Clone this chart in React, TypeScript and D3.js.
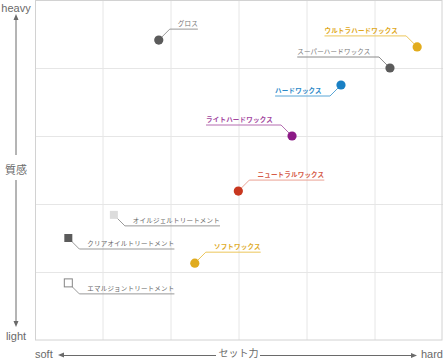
import React from "react";
import * as d3 from "d3";

const products = [
  "グロス",
  "ウルトラハードワックス",
  "スーパーハードワックス",
  "ハードワックス",
  "ライトハードワックス",
  "ニュートラルワックス",
  "ソフトワックス",
  "オイルジェルトリートメント",
  "クリアオイルトリートメント",
  "エマルジョントリートメント",
];
// set strength (soft 0 → hard 6)
const setPower = [1.82, 5.62, 5.22, 4.5, 3.78, 2.99, 2.35, 1.16, 0.49, 0.49];
// texture (light 0 → heavy 5)
const texture = [4.41, 4.31, 4.0, 3.75, 3.0, 2.19, 1.13, 1.84, 1.5, 0.84];
const kinds = ["wax", "wax", "wax", "wax", "wax", "wax", "wax", "treat", "treat", "treat"];

const xTicks = [0, 1, 2, 3, 4, 5, 6];
const yTicks = [0, 1, 2, 3, 4, 5];

// styling
const markerFill = ["#5b5b5b", "#e2ac1c", "#5b5b5b", "#1a80c4", "#8c1a86", "#c8371f", "#e0ab1e", "#dcdcdc", "#5b5b5b", "#ffffff"];
const markerStroke = ["none", "none", "none", "none", "none", "none", "none", "none", "none", "#858585"];
const lineColor = ["#999", "#ecc65a", "#8a8a8a", "#5aa6d6", "#b46cb0", "#eaa294", "#ecc65a", "#999", "#999", "#999"];
const textColor = ["#777", "#e0a821", "#777", "#2a88c8", "#a2459e", "#d55a47", "#e0ab2a", "#666", "#666", "#666"];
const dirX = [1, -1, -1, -1, -1, 1, 1, 1, 1, 1];
const dirY = [-1, -1, -1, 1, -1, -1, -1, 1, 1, 1];

const W = 443;
const H = 359;
const axisColor = "#6a6a6a";
const latin = "'Liberation Sans', Arial, Helvetica, sans-serif";
const cjk = "'Noto Sans CJK JP', 'Noto Sans', sans-serif";

export default function App() {
  const x = d3.scaleLinear().domain([0, 6]).range([35, 443]);
  const y = d3.scaleLinear().domain([0, 5]).range([340, 0]);
  const fs = 6.5;
  const ls = 0.2;
  const charW = fs + ls;

  return (
    <svg width={W} height={H} style={{ position: "absolute", left: 0, top: 0, background: "#fff" }}>
      {/* grid */}
      <g>
        {xTicks.slice(1, -1).map((t) => (
          <line key={"gx" + t} x1={x(t)} x2={x(t)} y1={y(5)} y2={y(0)} stroke="#e6e6e6" strokeWidth={1} />
        ))}
        {yTicks.slice(1, -1).map((t) => (
          <line key={"gy" + t} x1={x(0)} x2={x(6)} y1={y(t) + 0.5} y2={y(t) + 0.5} stroke="#e6e6e6" strokeWidth={1} />
        ))}
        <rect x={x(0) + 0.5} y={y(5) + 0.5} width={x(6) - x(0) - 1.5} height={y(0) - y(5) - 0.5} fill="none" stroke="#d2d2d2" strokeWidth={1} />
      </g>

      {/* labels and markers */}
      {products.map((name, i) => {
        const px = x(setPower[i]);
        const py = y(texture[i]);
        const ex = px + dirX[i] * 11;
        const ey = py + dirY[i] * 11;
        const tw = name.length * charW;
        const fx = ex + dirX[i] * (tw + 8);
        return (
          <g key={name}>
            <polyline
              points={`${px},${py} ${ex},${ey} ${fx},${ey}`}
              fill="none"
              stroke={lineColor[i]}
              strokeWidth={1}
            />
            <text
              x={fx}
              y={ey - 3}
              fontSize={fs}
              letterSpacing={ls}
              fontFamily={cjk}
              fill={textColor[i]}
              textAnchor={dirX[i] > 0 ? "end" : "start"}
              fontWeight={kinds[i] === "wax" && i !== 0 && i !== 2 ? 600 : 400}
            >
              {name}
            </text>
            {kinds[i] === "wax" ? (
              <circle cx={px} cy={py} r={4.6} fill={markerFill[i]} />
            ) : (
              <rect
                x={px - 4}
                y={py - 4}
                width={8}
                height={8}
                fill={markerFill[i]}
                stroke={markerStroke[i]}
                strokeWidth={1}
              />
            )}
          </g>
        );
      })}

      {/* y axis */}
      <text x={16} y={12} fontSize={11} fontFamily={latin} fill={axisColor} textAnchor="middle">heavy</text>
      <path d="M16,14 L13.5,20 L18.5,20 Z" fill={axisColor} />
      <line x1={16} x2={16} y1={19} y2={155} stroke={axisColor} strokeWidth={1} />
      <text x={16} y={174} fontSize={11} fontFamily={cjk} fill={axisColor} textAnchor="middle">質感</text>
      <line x1={16} x2={16} y1={180} y2={322} stroke={axisColor} strokeWidth={1} />
      <path d="M16,327 L13.5,321 L18.5,321 Z" fill={axisColor} />
      <text x={16} y={340} fontSize={11} fontFamily={latin} fill={axisColor} textAnchor="middle">light</text>

      {/* x axis */}
      <text x={35} y={358} fontSize={11} fontFamily={latin} fill={axisColor}>soft</text>
      <path d="M58,355 L64,352.5 L64,357.5 Z" fill={axisColor} />
      <line x1={63} x2={216} y1={355.5} y2={355.5} stroke={axisColor} strokeWidth={1} />
      <text x={238.5} y={357} fontSize={10} fontFamily={cjk} fill={axisColor} textAnchor="middle">セット力</text>
      <line x1={260} x2={412} y1={355.5} y2={355.5} stroke={axisColor} strokeWidth={1} />
      <path d="M417,355.5 L411,353 L411,358 Z" fill={axisColor} />
      <text x={443} y={358} fontSize={11} fontFamily={latin} fill={axisColor} textAnchor="end">hard</text>
    </svg>
  );
}
